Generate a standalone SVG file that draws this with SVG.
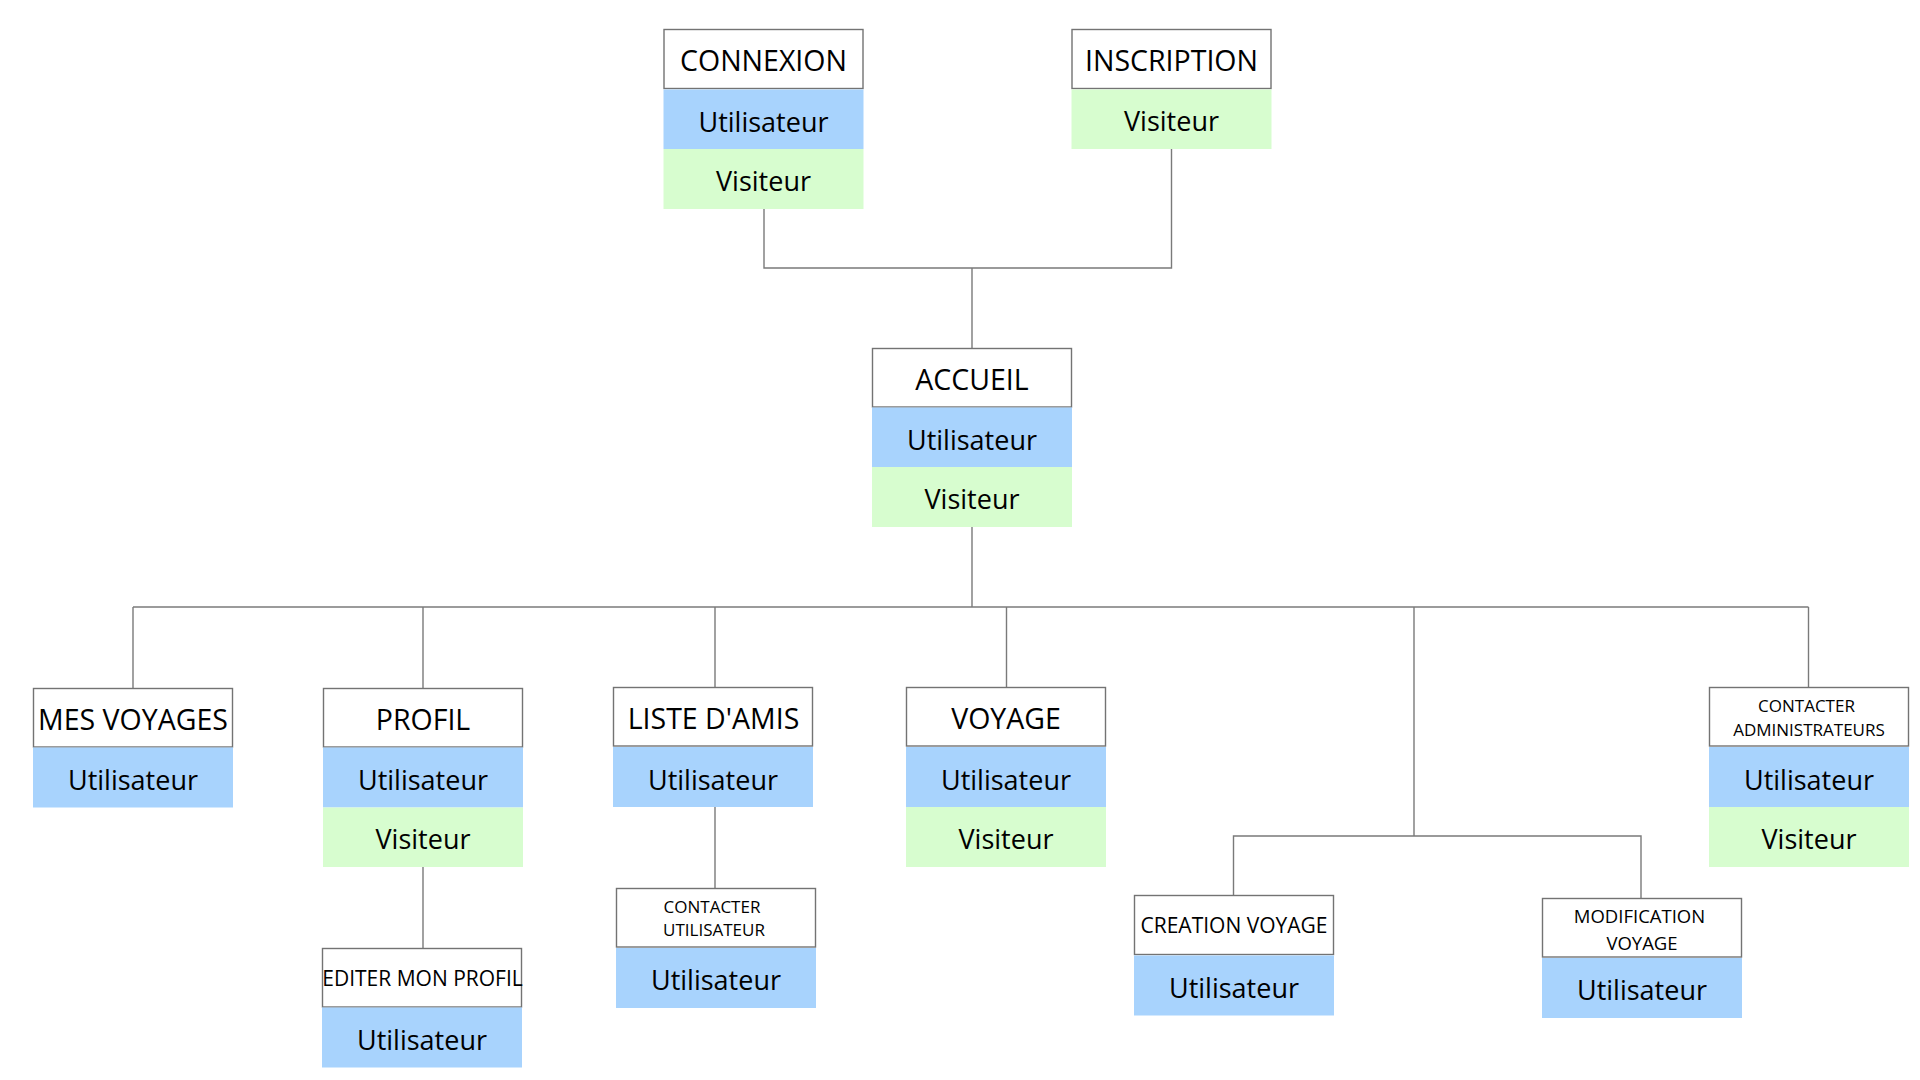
<svg xmlns="http://www.w3.org/2000/svg" width="1920" height="1080" viewBox="0 0 1920 1080">
<style>
.bg{fill:#ffffff}
.hd{fill:#ffffff;stroke:#737373;stroke-width:1.4}
.u{fill:#a8d3fd}
.v{fill:#d7fdcf}
text{font-family:"Open Sans","Noto Sans","DejaVu Sans",sans-serif;fill:#000000;text-anchor:middle}
.t{font-size:28.5px}
.r{font-size:27px}
.s{font-size:17px}
.m{font-size:21px}
.n{font-size:18.5px}
.c{fill:none;stroke:#7a7a7a;stroke-width:1.4}
</style>
<rect class="bg" x="0" y="0" width="1920" height="1080"/>
<g id="connectors">
<path class="c" d="M764 209 V268 H1171.5 V149"/>
<path class="c" d="M972 268 V348"/>
<path class="c" d="M972 527 V607"/>
<path class="c" d="M133 607 H1808.5"/>
<path class="c" d="M133 607 V688"/>
<path class="c" d="M423 607 V688"/>
<path class="c" d="M715 607 V687"/>
<path class="c" d="M1006.5 607 V687"/>
<path class="c" d="M1414 607 V836"/>
<path class="c" d="M1808.5 607 V687"/>
<path class="c" d="M1233.5 895.5 V836 H1641 V898.5"/>
<path class="c" d="M423 867 V948.5"/>
<path class="c" d="M715 807 V888.5"/>
</g>
<g id="connexion">
<rect class="hd" x="664" y="29.5" width="199" height="59"/>
<text class="t" x="763.5" y="70.5">CONNEXION</text>
<rect class="u" x="663.5" y="89.5" width="200" height="59.5"/>
<text class="r" x="763.5" y="131.5">Utilisateur</text>
<rect class="v" x="663.5" y="149" width="200" height="60"/>
<text class="r" x="763.5" y="190.7">Visiteur</text>
</g>
<g id="inscription">
<rect class="hd" x="1072" y="29.5" width="199" height="59"/>
<text class="t" x="1171.5" y="70.5">INSCRIPTION</text>
<rect class="v" x="1071.5" y="89.5" width="200" height="59.5"/>
<text class="r" x="1171.5" y="130.5">Visiteur</text>
</g>
<g id="accueil">
<rect class="hd" x="872.5" y="348.5" width="199" height="58.5"/>
<text class="t" x="972" y="389.5">ACCUEIL</text>
<rect class="u" x="872" y="407.5" width="200" height="59.5"/>
<text class="r" x="972" y="449.5">Utilisateur</text>
<rect class="v" x="872" y="467" width="200" height="60"/>
<text class="r" x="972" y="508.5">Visiteur</text>
</g>
<g id="mes-voyages">
<rect class="hd" x="33.5" y="688.5" width="199" height="58.5"/>
<text class="t" x="133" y="729.5">MES VOYAGES</text>
<rect class="u" x="33" y="747.5" width="200" height="60"/>
<text class="r" x="133" y="789.5">Utilisateur</text>
</g>
<g id="profil">
<rect class="hd" x="323.5" y="688.5" width="199" height="58.5"/>
<text class="t" x="423" y="729.5">PROFIL</text>
<rect class="u" x="323" y="747.5" width="200" height="60"/>
<text class="r" x="423" y="789.5">Utilisateur</text>
<rect class="v" x="323" y="807.5" width="200" height="59.5"/>
<text class="r" x="423" y="849">Visiteur</text>
</g>
<g id="editer-mon-profil">
<rect class="hd" x="322.5" y="948.5" width="199" height="58.5"/>
<text class="m" x="422.5" y="986">EDITER MON PROFIL</text>
<rect class="u" x="322" y="1007.5" width="200" height="60"/>
<text class="r" x="422" y="1049.5">Utilisateur</text>
</g>
<g id="liste-amis">
<rect class="hd" x="613.5" y="687.5" width="199" height="58.5"/>
<text class="t" x="713.5" y="728.5">LISTE D'AMIS</text>
<rect class="u" x="613" y="747" width="200" height="60"/>
<text class="r" x="713" y="789.5">Utilisateur</text>
</g>
<g id="contacter-utilisateur">
<rect class="hd" x="616.5" y="888.5" width="199" height="58.5"/>
<text class="s" x="712" y="913.3">CONTACTER</text>
<text class="s" x="714" y="936">UTILISATEUR</text>
<rect class="u" x="616" y="948" width="200" height="60"/>
<text class="r" x="716" y="990">Utilisateur</text>
</g>
<g id="voyage">
<rect class="hd" x="906.5" y="687.5" width="199" height="58.5"/>
<text class="t" x="1006" y="728.5">VOYAGE</text>
<rect class="u" x="906" y="747" width="200" height="60"/>
<text class="r" x="1006" y="789.5">Utilisateur</text>
<rect class="v" x="906" y="807" width="200" height="60"/>
<text class="r" x="1006" y="849">Visiteur</text>
</g>
<g id="creation-voyage">
<rect class="hd" x="1134.5" y="895.5" width="199" height="59"/>
<text class="m" x="1234" y="933.3">CREATION VOYAGE</text>
<rect class="u" x="1134" y="955.5" width="200" height="60"/>
<text class="r" x="1234" y="997.5">Utilisateur</text>
</g>
<g id="modification-voyage">
<rect class="hd" x="1542.5" y="898.5" width="199" height="58.5"/>
<text class="n" x="1639.5" y="922.7">MODIFICATION</text>
<text class="n" x="1642" y="950">VOYAGE</text>
<rect class="u" x="1542" y="958" width="200" height="60"/>
<text class="r" x="1642" y="1000">Utilisateur</text>
</g>
<g id="contacter-administrateurs">
<rect class="hd" x="1709.5" y="687.5" width="199" height="58.5"/>
<text class="s" x="1806.5" y="711.7">CONTACTER</text>
<text class="s" x="1809" y="735.7">ADMINISTRATEURS</text>
<rect class="u" x="1709" y="747" width="200" height="60"/>
<text class="r" x="1809" y="789.5">Utilisateur</text>
<rect class="v" x="1709" y="807" width="200" height="60"/>
<text class="r" x="1809" y="849">Visiteur</text>
</g>
</svg>
